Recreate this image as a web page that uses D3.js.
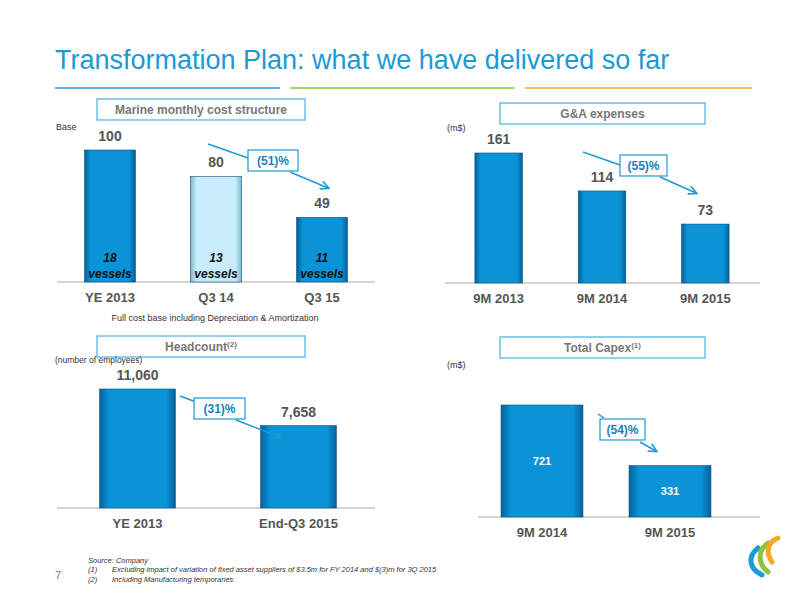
<!DOCTYPE html>
<html><head><meta charset="utf-8">
<script src="https://cdn.jsdelivr.net/npm/d3@7"></script>
<style>body{margin:0;background:#fff}text{font-family:Arial,"Liberation Sans",sans-serif}</style>
</head><body><svg id="vis" width="800" height="600"></svg>
<script>
// Chart data
const marineCats = ["YE 2013", "Q3 14", "Q3 15"];
const marineVals = [100, 80, 49];
const marineVessels = ["18", "13", "11"];
const gaCats = ["9M 2013", "9M 2014", "9M 2015"];
const gaVals = [161, 114, 73];
const headCats = ["YE 2013", "End-Q3 2015"];
const headVals = [11060, 7658];
const capexCats = ["9M 2014", "9M 2015"];
const capexVals = [721, 331];

const svg = d3.select("#vis");
const defs = svg.append("defs");
function grad(id, edge, mid) {
    let g = defs.append("linearGradient").attr("id", id);
    g.append("stop").attr("offset", "0%").attr("stop-color", edge);
    g.append("stop").attr("offset", "12%").attr("stop-color", mid);
    g.append("stop").attr("offset", "88%").attr("stop-color", mid);
    g.append("stop").attr("offset", "100%").attr("stop-color", edge);
}
grad("dark", "#05609a", "#0a93d6");
grad("light", "#7fb9cf", "#c8ecfb");
defs.append("marker").attr("id", "arr").attr("viewBox", "0 0 10 10")
    .attr("refX", 8).attr("refY", 5).attr("markerWidth", 7).attr("markerHeight", 7)
    .attr("orient", "auto")
    .append("path").attr("d", "M1,1 L9,5 L1,9").attr("fill", "none")
    .attr("stroke", "#1a9ad6").attr("stroke-width", 1.5);

// Title
svg.append("text").attr("x", 55).attr("y", 69).attr("font-size", 27)
    .attr("fill", "#1a9ad6").text("Transformation Plan: what we have delivered so far");
[[55, 280, "#1a9ad6"], [290, 515, "#8cc63f"], [525, 752, "#f7a823"]].forEach(s => {
    svg.append("line").attr("x1", s[0]).attr("x2", s[1]).attr("y1", 88).attr("y2", 88)
        .attr("stroke", s[2]).attr("stroke-width", 1.5);
});

function header(x, y, w, label, sup) {
    svg.append("rect").attr("x", x).attr("y", y).attr("width", w).attr("height", 21)
        .attr("fill", "#fff").attr("stroke", "#4ab0dc").attr("stroke-width", 1.2);
    let t = svg.append("text").attr("x", x + w / 2).attr("y", y + 15).attr("text-anchor", "middle")
        .attr("font-size", 12).attr("font-weight", "bold").attr("fill", "#777").text(label);
    if (sup) t.append("tspan").attr("font-size", 8).attr("dy", -4).text(sup);
}

function panel(o) {
    let x = d3.scaleBand().domain(o.cats).range([o.x0, o.x1]).paddingInner(o.pad).paddingOuter(o.pad / 2);
    let y = d3.scaleLinear().domain([0, o.max]).range([o.base, o.top]);
    let g = svg.append("g");
    g.append("line").attr("x1", o.ax0).attr("x2", o.ax1).attr("y1", o.base).attr("y2", o.base)
        .attr("stroke", "#aaa");
    g.selectAll("rect.b").data(o.vals).enter().append("rect")
        .attr("x", (d, i) => x(o.cats[i])).attr("width", x.bandwidth())
        .attr("y", d => y(d)).attr("height", d => o.base - y(d))
        .attr("fill", (d, i) => `url(#${o.light === i ? "light" : "dark"})`)
        .attr("stroke", "#0a4f7a").attr("stroke-width", 0.6);
    g.selectAll("text.v").data(o.vals).enter().append("text")
        .attr("x", (d, i) => x(o.cats[i]) + x.bandwidth() / 2)
        .attr("y", d => o.inside ? (y(d) + o.base) / 2 + 4 : y(d) - 9)
        .attr("text-anchor", "middle").attr("font-size", o.inside ? 11 : 14).attr("font-weight", "bold")
        .attr("fill", o.inside ? "#fff" : "#555").text(d => d3.format(",")(d));
    g.selectAll("text.c").data(o.cats).enter().append("text")
        .attr("x", d => x(d) + x.bandwidth() / 2).attr("y", o.base + 20)
        .attr("text-anchor", "middle").attr("font-size", 13).attr("font-weight", "bold")
        .attr("fill", "#555").text(d => d);
    return x;
}

function arrow(l1, box, l2, label) {
    svg.append("line").attr("x1", l1[0]).attr("y1", l1[1]).attr("x2", l1[2]).attr("y2", l1[3])
        .attr("stroke", "#1a9ad6").attr("stroke-width", 1.5);
    svg.append("line").attr("x1", l2[0]).attr("y1", l2[1]).attr("x2", l2[2]).attr("y2", l2[3])
        .attr("stroke", "#1a9ad6").attr("stroke-width", 1.5).attr("marker-end", "url(#arr)");
    svg.append("rect").attr("x", box[0]).attr("y", box[1]).attr("width", box[2]).attr("height", 21)
        .attr("fill", "#fff").attr("stroke", "#1a9ad6").attr("stroke-width", 1.2);
    svg.append("text").attr("x", box[0] + box[2] / 2).attr("y", box[1] + 15).attr("text-anchor", "middle")
        .attr("font-size", 12).attr("font-weight", "bold").attr("fill", "#1a7fc0").text(label);
}

// Panel 1: marine
header(97, 99, 208, "Marine monthly cost structure");
svg.append("text").attr("x", 56).attr("y", 130).attr("font-size", 9).attr("fill", "#333").text("Base");
let xm = panel({cats: marineCats, vals: marineVals, x0: 57, x1: 375, pad: 0.52, base: 282, top: 150, max: 100, ax0: 57, ax1: 375, light: 1});
marineCats.forEach((c, i) => {
    let cx = xm(c) + xm.bandwidth() / 2;
    let t = svg.append("text").attr("text-anchor", "middle").attr("font-size", 12)
        .attr("font-weight", "bold").attr("font-style", "italic").attr("fill", "#111");
    t.append("tspan").attr("x", cx).attr("y", 262).text(marineVessels[i]);
    t.append("tspan").attr("x", cx).attr("y", 278).text("vessels");
});
svg.append("text").attr("x", 215).attr("y", 321).attr("text-anchor", "middle").attr("font-size", 9)
    .attr("fill", "#333").text("Full cost base including Depreciation & Amortization");
arrow([208, 144, 248, 158], [248, 150, 50], [290, 172, 328, 188], "(51)%");

// Panel 2: G&A
header(500, 103, 205, "G&A expenses");
svg.append("text").attr("x", 447).attr("y", 131).attr("font-size", 9).attr("fill", "#333").text("(m$)");
panel({cats: gaCats, vals: gaVals, x0: 447, x1: 757, pad: 0.54, base: 283, top: 153, max: 161, ax0: 445, ax1: 760});
arrow([583, 152, 620, 165], [620, 155, 47], [660, 177, 696, 193], "(55)%");

// Panel 3: headcount
header(97, 336, 208, "Headcount", "(2)");
svg.append("text").attr("x", 55).attr("y", 363).attr("font-size", 8.5).attr("fill", "#333").text("(number of employees)");
panel({cats: headCats, vals: headVals, x0: 57, x1: 379, pad: 0.53, base: 508, top: 389, max: 11060, ax0: 57, ax1: 375});
arrow([180, 396, 196, 402], [194, 398, 51], [236, 420, 280, 437], "(31)%");

// Panel 4: capex
header(500, 337, 205, "Total Capex", "(1)");
svg.append("text").attr("x", 447).attr("y", 368).attr("font-size", 9).attr("fill", "#333").text("(m$)");
panel({cats: capexCats, vals: capexVals, x0: 478, x1: 734, pad: 0.36, base: 517, top: 405, max: 721, ax0: 478, ax1: 760, inside: true});
arrow([598, 414, 604, 418], [600, 419, 45], [640, 442, 656, 451], "(54)%");

// Footnotes
let fn = svg.append("g").attr("font-size", 7.5).attr("font-style", "italic").attr("fill", "#333");
fn.append("text").attr("x", 88).attr("y", 563).text("Source:  Company");
fn.append("text").attr("x", 88).attr("y", 572).text("(1)");
fn.append("text").attr("x", 112).attr("y", 572).text("Excluding  impact of variation of fixed asset suppliers of $3.5m for FY  2014 and $(3)m for 3Q 2015");
fn.append("text").attr("x", 88).attr("y", 582).text("(2)");
fn.append("text").attr("x", 112).attr("y", 582).text("Including  Manufacturing temporaries");
svg.append("text").attr("x", 55).attr("y", 579).attr("font-size", 11).attr("fill", "#1a9ad6").text("7");

// Logo
let lg = svg.append("g").attr("fill", "none").attr("stroke-width", 5).attr("stroke-linecap", "round");
lg.append("path").attr("d", "M762,575 C748,568 748,556 758,548").attr("stroke", "#1a9ad6");
lg.append("path").attr("d", "M768,572 C757,563 758,550 768,543").attr("stroke", "#8cc63f");
lg.append("path").attr("d", "M772,562 C765,552 768,542 778,538").attr("stroke", "#f7a823");
</script></body></html>
